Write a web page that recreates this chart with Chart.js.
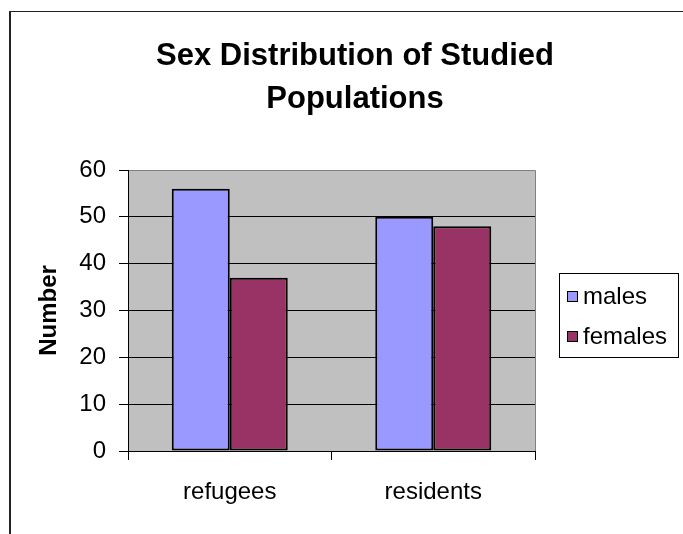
<!DOCTYPE html>
<html>
<head>
<meta charset="utf-8">
<script src="https://cdn.jsdelivr.net/npm/chart.js@4/dist/chart.umd.min.js"></script>
<style>
  html, body { margin: 0; padding: 0; background: #fff; }
  #wrap { position: relative; width: 683px; height: 534px; overflow: hidden; }
  #frame { position: absolute; left: 9px; top: 11px; width: 720px; height: 600px;
           border-left: 2px solid #222; border-top: 1px solid #222; box-sizing: border-box; }
  #c { position: absolute; left: 0; top: 0; }
</style>
</head>
<body>
<div id="wrap">
  <div id="frame"></div>
  <canvas id="c" width="683" height="534"></canvas>
</div>
<script>
// Survey counts by group and sex
const categories = ['refugees', 'residents'];
const seriesNames = ['males', 'females'];
const males = [56, 50];
const females = [37, 48];
const yTicks = [0, 10, 20, 30, 40, 50, 60];
const titleLines = ['Sex Distribution of Studied', 'Populations'];
const yAxisTitle = 'Number';

const FONT = "'Liberation Sans', Arial, Helvetica, sans-serif";
const colors = ['#9999FF', '#993366'];

// Gray plot area behind the grid
const plotBackground = {
  id: 'plotBackground',
  beforeDraw(chart) {
    const { ctx, chartArea: a } = chart;
    ctx.save();
    ctx.fillStyle = '#C0C0C0';
    ctx.fillRect(a.left, a.top, a.right - a.left, a.bottom - a.top);
    ctx.restore();
  },
  afterDraw(chart) {
    // gray frame on the top and right edges of the plot
    const { ctx, chartArea: a } = chart;
    ctx.save();
    ctx.strokeStyle = '#808080';
    ctx.lineWidth = 1;
    ctx.beginPath();
    ctx.moveTo(a.left + 1, a.top + 0.5);
    ctx.lineTo(a.right + 0.5, a.top + 0.5);
    ctx.lineTo(a.right + 0.5, a.bottom);
    ctx.stroke();
    ctx.restore();
  }
};

// Two-line bold title centred over the whole chart frame
const titleBlock = {
  id: 'titleBlock',
  afterDraw(chart) {
    const { ctx } = chart;
    ctx.save();
    ctx.fillStyle = '#000';
    ctx.font = 'bold 31px ' + FONT;
    ctx.textAlign = 'center';
    ctx.textBaseline = 'alphabetic';
    const baselines = [65, 108];
    titleLines.forEach((t, i) => ctx.fillText(t, 355, baselines[i]));
    ctx.restore();
  }
};

// Boxed legend to the right of the plot
const boxedLegend = {
  id: 'boxedLegend',
  afterDraw(chart) {
    const { ctx } = chart;
    const box = { x: 559.5, y: 273.5, w: 119, h: 84 };
    ctx.save();
    ctx.strokeStyle = '#000';
    ctx.lineWidth = 1;
    ctx.strokeRect(box.x, box.y, box.w, box.h);
    ctx.font = '24px ' + FONT;
    ctx.textAlign = 'left';
    ctx.textBaseline = 'middle';
    chart.data.datasets.forEach((ds, i) => {
      const cy = 296.5 + i * 40;
      ctx.fillStyle = ds.backgroundColor;
      ctx.fillRect(567, cy - 5.5, 11, 11);
      ctx.strokeStyle = '#000';
      ctx.strokeRect(567.5, cy - 5, 10, 10);
      ctx.fillStyle = '#000';
      ctx.fillText(ds.label, 583, cy + 1);
    });
    ctx.restore();
  }
};

new Chart(document.getElementById('c'), {
  type: 'bar',
  data: {
    labels: categories,
    datasets: [
      { label: seriesNames[0], data: males, backgroundColor: colors[0],
        borderColor: '#000', borderWidth: 2, borderSkipped: false },
      { label: seriesNames[1], data: females, backgroundColor: colors[1],
        borderColor: '#000', borderWidth: 2, borderSkipped: false }
    ]
  },
  options: {
    responsive: false,
    animation: false,
    devicePixelRatio: 1,
    layout: { padding: { left: 0, top: 170, right: 148, bottom: 0 } },
    datasets: { bar: { categoryPercentage: 0.57, barPercentage: 1.0 } },
    plugins: {
      legend: { display: false },
      title: { display: false },
      tooltip: { enabled: false }
    },
    scales: {
      x: {
        offset: true,
        grid: { offset: true, drawOnChartArea: false, drawTicks: true, tickLength: 9, color: '#000', lineWidth: 1 },
        border: { display: true, color: '#000', width: 1 },
        ticks: { color: '#000', font: { family: FONT, size: 24 }, padding: 18, maxRotation: 0 },
        afterFit(scale) { scale.height = 534 - 451; }
      },
      y: {
        min: 0,
        max: 60,
        afterBuildTicks(scale) { scale.ticks = yTicks.map(v => ({ value: v })); },
        grid: { color: '#000', lineWidth: 1, drawTicks: true, tickLength: 9 },
        border: { display: true, color: '#000', width: 1 },
        ticks: { color: '#000', font: { family: FONT, size: 24 }, padding: 13 },
        title: { display: true, text: yAxisTitle, color: '#000',
                 font: { family: FONT, size: 24, weight: 'bold' }, padding: { top: 35, bottom: 0 } },
        afterFit(scale) { scale.width = 128; }
      }
    }
  },
  plugins: [plotBackground, titleBlock, boxedLegend]
});
</script>
</body>
</html>
